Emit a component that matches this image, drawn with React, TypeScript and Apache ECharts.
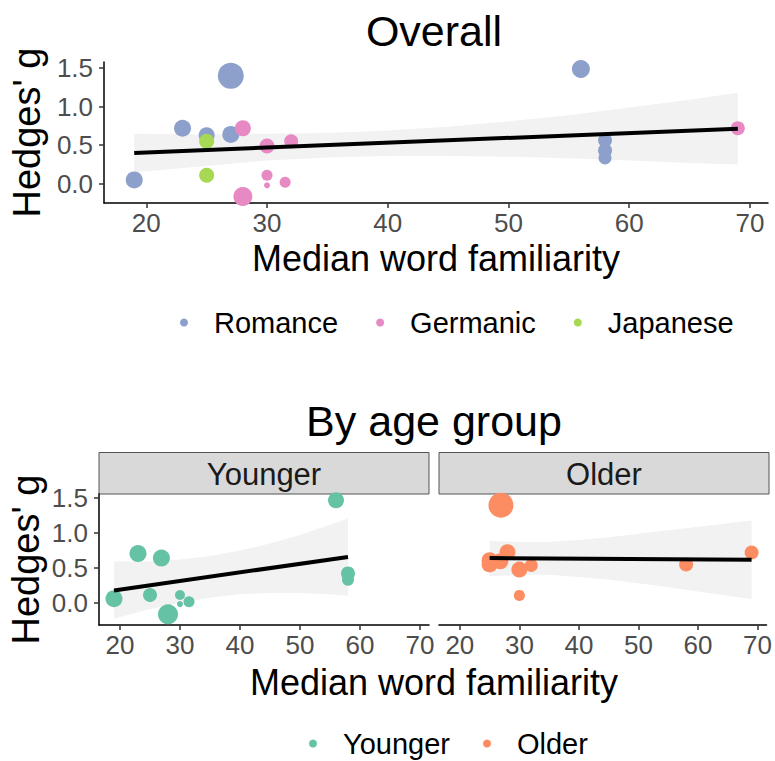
import React, { useEffect, useRef } from 'react';
import * as echarts from 'echarts';

const FONT = "'Liberation Sans', Arial, Helvetica, sans-serif";

// tick labels
const xTicks = [20, 30, 40, 50, 60, 70];
const yTicks = [0, 0.5, 1, 1.5];

// Overall panel: [familiarity, hedges g, point size]
const romance = [
  [19, 0.05, 17], [23, 0.72, 17], [25, 0.63, 16], [27, 1.40, 26], [27, 0.64, 17],
  [56, 1.49, 18], [58, 0.565, 14], [58, 0.43, 14], [58, 0.335, 13],
];
const germanic = [
  [28, 0.72, 16], [30, 0.49, 15], [32, 0.55, 14], [30, 0.11, 11], [30, -0.02, 6],
  [31.5, 0.02, 11], [28, -0.165, 19], [69, 0.72, 14],
];
const japanese = [
  [25, 0.55, 15], [25, 0.11, 15],
];
const overallFitX = [19, 69];
const overallFitY = [0.40, 0.715];
const overallBandX = [19, 25, 30, 35, 40, 45, 50, 55, 60, 65, 69];
const overallBandUpper = [0.65, 0.64, 0.65, 0.66, 0.69, 0.74, 0.81, 0.89, 0.99, 1.09, 1.18];
const overallBandLower = [0.15, 0.23, 0.30, 0.34, 0.36, 0.36, 0.35, 0.33, 0.30, 0.27, 0.25];

// By age group
const younger = [
  [19, 0.057, 17], [23, 0.705, 17], [26.9, 0.64, 17], [25, 0.11, 14], [28, -0.167, 20],
  [30, 0.11, 10], [30, -0.02, 6], [31.5, 0.015, 11], [56, 1.47, 16], [58, 0.42, 14], [58, 0.33, 12],
];
const older = [
  [26.9, 1.40, 25], [25, 0.61, 16], [25, 0.55, 16], [26.8, 0.595, 16], [28, 0.725, 16],
  [30, 0.475, 16], [32, 0.535, 13], [30, 0.105, 11], [58, 0.55, 14], [69, 0.72, 14],
];
const youngerFitX = [19, 58];
const youngerFitY = [0.176, 0.657];
const youngerBandX = [19, 25, 30, 35, 40, 45, 50, 55, 58];
const youngerBandUpper = [0.59, 0.59, 0.62, 0.67, 0.75, 0.85, 0.97, 1.12, 1.21];
const youngerBandLower = [-0.23, -0.09, 0.0, 0.07, 0.12, 0.14, 0.14, 0.12, 0.10];
const olderFitX = [25, 69];
const olderFitY = [0.64, 0.615];
const olderBandX = [25, 30, 35, 40, 45, 50, 55, 60, 65, 69];
const olderBandUpper = [0.89, 0.87, 0.87, 0.90, 0.94, 0.99, 1.04, 1.09, 1.14, 1.18];
const olderBandLower = [0.38, 0.40, 0.40, 0.37, 0.33, 0.28, 0.22, 0.16, 0.10, 0.05];

const COLORS = {
  Romance: '#8DA0CB',
  Germanic: '#E78AC3',
  Japanese: '#A6D854',
  Younger: '#66C2A5',
  Older: '#FC8D62',
};

function xAxis(gridIndex: number) {
  return {
    type: 'value', gridIndex, min: 16.5, max: 71.5,
    splitLine: { show: false },
    axisLine: { show: true, onZero: false, lineStyle: { color: '#000', width: 1.5 } },
    axisTick: { show: true, length: 5, customValues: xTicks, lineStyle: { color: '#333', width: 1.5 } },
    axisLabel: { customValues: xTicks, color: '#4D4D4D', fontSize: 26, margin: 7, fontFamily: FONT },
  };
}

function yAxis(gridIndex: number, min: number, max: number, show: boolean) {
  return {
    type: 'value', gridIndex, min, max,
    splitLine: { show: false },
    name: show ? "Hedges' g" : '',
    nameLocation: 'middle', nameRotate: 90, nameGap: 54,
    nameTextStyle: { fontSize: 38, color: '#000', fontFamily: FONT },
    axisLine: { show, onZero: false, lineStyle: { color: '#000', width: 1.5 } },
    axisTick: { show, length: 5, customValues: yTicks, lineStyle: { color: '#333', width: 1.5 } },
    axisLabel: {
      show, customValues: yTicks, color: '#4D4D4D', fontSize: 26, margin: 11, fontFamily: FONT,
      formatter: (v: number) => v.toFixed(1),
    },
  };
}

function scatter(name: string, data: number[][], idx: number) {
  return {
    type: 'scatter', name, xAxisIndex: idx, yAxisIndex: idx, data,
    symbol: 'circle', symbolSize: (v: number[]) => v[2],
    itemStyle: { color: (COLORS as any)[name], opacity: 1 },
    z: 3,
  };
}

function band(xs: number[], up: number[], lo: number[], idx: number) {
  return {
    type: 'custom', xAxisIndex: idx, yAxisIndex: idx, silent: true, z: 1,
    data: [[xs[0], up[0]]],
    renderItem: (_p: any, api: any) => {
      const pts: number[][] = [];
      xs.forEach((x, i) => pts.push(api.coord([x, up[i]])));
      for (let i = xs.length - 1; i >= 0; i--) pts.push(api.coord([xs[i], lo[i]]));
      return { type: 'polygon', shape: { points: pts }, style: { fill: '#F2F2F2' } };
    },
  };
}

function fit(xs: number[], ys: number[], idx: number) {
  return {
    type: 'line', xAxisIndex: idx, yAxisIndex: idx, silent: true, z: 5,
    data: xs.map((x, i) => [x, ys[i]]),
    showSymbol: false, symbol: 'none',
    lineStyle: { color: '#000', width: 4 },
  };
}

export default function App() {
  const ref = useRef<HTMLDivElement>(null);
  useEffect(() => {
    document.body.style.margin = '0';
    if (!ref.current) return;
    const chart = echarts.init(ref.current, null, { renderer: 'svg' });
    const legendText = { fontSize: 29, color: '#000', fontFamily: FONT, padding: [0, 0, 0, 21] };
    chart.setOption({
      animation: false,
      backgroundColor: '#fff',
      textStyle: { fontFamily: FONT },
      grid: [
        { left: 100, top: 62, width: 668, height: 141 },
        { left: 99, top: 494, width: 330, height: 131 },
        { left: 439, top: 494, width: 330, height: 131 },
      ],
      xAxis: [
        {
          ...xAxis(0), name: 'Median word familiarity', nameLocation: 'middle', nameGap: 37,
          nameTextStyle: { fontSize: 36, color: '#000', fontFamily: FONT },
        },
        xAxis(1),
        xAxis(2),
      ],
      yAxis: [
        yAxis(0, -0.25, 1.58, true),
        yAxis(1, -0.32, 1.56, true),
        yAxis(2, -0.32, 1.56, false),
      ],
      legend: [
        {
          data: ['Romance', 'Germanic', 'Japanese'], left: 175, top: 303, icon: 'circle',
          itemWidth: 8, itemHeight: 8, itemGap: 38, selectedMode: false, textStyle: legendText,
        },
        {
          data: ['Younger', 'Older'], left: 304, top: 724, icon: 'circle',
          itemWidth: 8, itemHeight: 8, itemGap: 33, selectedMode: false, textStyle: legendText,
        },
      ],
      graphic: [
        { type: 'text', x: 434, y: 31, style: { text: 'Overall', fontSize: 43, fill: '#000', fontFamily: FONT, textAlign: 'center', textVerticalAlign: 'middle' } },
        { type: 'text', x: 434, y: 421, style: { text: 'By age group', fontSize: 43, fill: '#000', fontFamily: FONT, textAlign: 'center', textVerticalAlign: 'middle' } },
        { type: 'rect', shape: { x: 99, y: 452.5, width: 330, height: 41.5 }, style: { fill: '#D9D9D9', stroke: '#555', lineWidth: 1 } },
        { type: 'rect', shape: { x: 439, y: 452.5, width: 330, height: 41.5 }, style: { fill: '#D9D9D9', stroke: '#555', lineWidth: 1 } },
        { type: 'text', x: 264, y: 474, style: { text: 'Younger', fontSize: 31, fill: '#1A1A1A', fontFamily: FONT, textAlign: 'center', textVerticalAlign: 'middle' } },
        { type: 'text', x: 604, y: 474, style: { text: 'Older', fontSize: 31, fill: '#1A1A1A', fontFamily: FONT, textAlign: 'center', textVerticalAlign: 'middle' } },
        { type: 'text', x: 434, y: 682, style: { text: 'Median word familiarity', fontSize: 36, fill: '#000', fontFamily: FONT, textAlign: 'center', textVerticalAlign: 'middle' } },
      ],
      series: [
        band(overallBandX, overallBandUpper, overallBandLower, 0),
        scatter('Romance', romance, 0),
        scatter('Germanic', germanic, 0),
        scatter('Japanese', japanese, 0),
        fit(overallFitX, overallFitY, 0),
        band(youngerBandX, youngerBandUpper, youngerBandLower, 1),
        scatter('Younger', younger, 1),
        fit(youngerFitX, youngerFitY, 1),
        band(olderBandX, olderBandUpper, olderBandLower, 2),
        scatter('Older', older, 2),
        fit(olderFitX, olderFitY, 2),
      ],
    });
    return () => chart.dispose();
  }, []);
  return <div ref={ref} style={{ width: 775, height: 761 }} />;
}
